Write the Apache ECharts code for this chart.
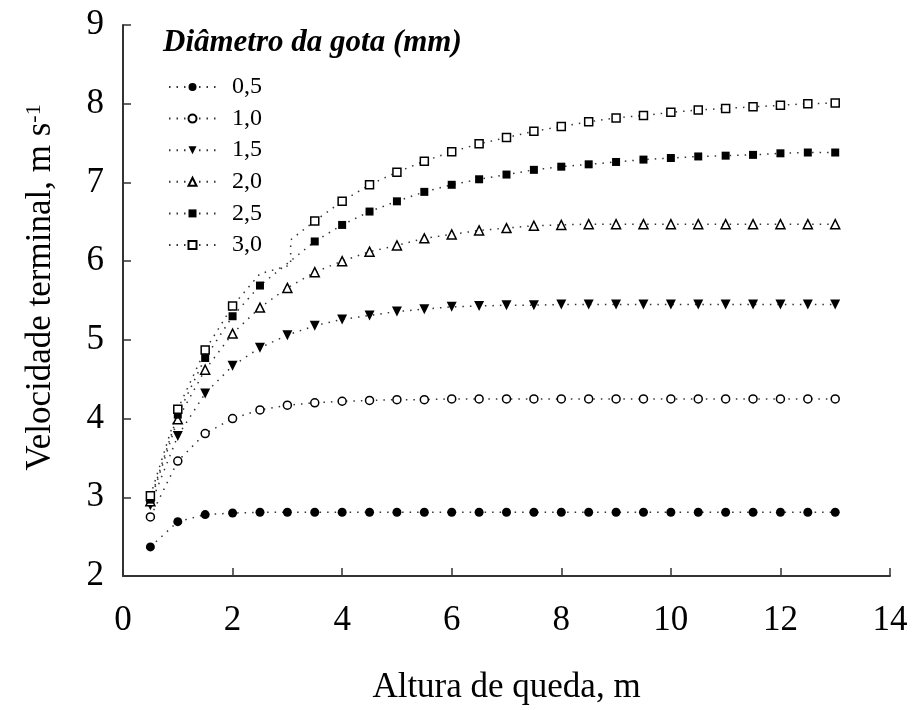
<!DOCTYPE html>
<html>
<head>
<meta charset="utf-8">
<script src="https://cdn.jsdelivr.net/npm/echarts@6/dist/echarts.min.js"></script>
<style>
  html, body { margin: 0; padding: 0; background: #fff; }
  #main { width: 912px; height: 710px; }
</style>
</head>
<body>
<div id="main"></div>
<script>
var FONT = '"Liberation Serif", "Times New Roman", serif';

// altura de queda (m)
var heights = [0.5, 1, 1.5, 2, 2.5, 3, 3.5, 4, 4.5, 5, 5.5, 6, 6.5, 7, 7.5, 8, 8.5, 9, 9.5, 10, 10.5, 11, 11.5, 12, 12.5, 13];

// velocidade terminal (m/s) por diametro de gota
var v05 = [2.37, 2.69, 2.78, 2.80, 2.81, 2.81, 2.81, 2.81, 2.81, 2.81, 2.81, 2.81, 2.81, 2.81, 2.81, 2.81, 2.81, 2.81, 2.81, 2.81, 2.81, 2.81, 2.81, 2.81, 2.81, 2.81];
var v10 = [2.75, 3.46, 3.81, 4.00, 4.11, 4.17, 4.20, 4.22, 4.23, 4.24, 4.24, 4.25, 4.25, 4.25, 4.25, 4.25, 4.25, 4.25, 4.25, 4.25, 4.25, 4.25, 4.25, 4.25, 4.25, 4.25];
var v15 = [2.90, 3.78, 4.32, 4.67, 4.90, 5.06, 5.18, 5.26, 5.31, 5.36, 5.39, 5.42, 5.43, 5.44, 5.44, 5.45, 5.45, 5.45, 5.45, 5.45, 5.45, 5.45, 5.45, 5.45, 5.45, 5.45];
var v20 = [2.95, 3.99, 4.62, 5.08, 5.41, 5.66, 5.86, 6.00, 6.12, 6.20, 6.29, 6.34, 6.39, 6.42, 6.45, 6.46, 6.47, 6.47, 6.47, 6.47, 6.47, 6.47, 6.47, 6.47, 6.47, 6.47];
var v25 = [2.97, 4.05, 4.77, 5.30, 5.69, 5.97, 6.25, 6.46, 6.63, 6.76, 6.88, 6.97, 7.04, 7.10, 7.16, 7.20, 7.23, 7.26, 7.29, 7.31, 7.33, 7.34, 7.35, 7.37, 7.38, 7.38];
var v30 = [3.02, 4.12, 4.87, 5.43, 5.84, null, 6.51, 6.76, 6.97, 7.13, 7.27, 7.39, 7.49, 7.57, 7.65, 7.71, 7.77, 7.82, 7.85, 7.89, 7.92, 7.94, 7.96, 7.98, 8.00, 8.01];
// trecho quebrado da curva de 3,0 mm perto de 3 m
var v30Break = [[3.06, 5.95], [3.06, 6.27]];
// pontos sem marcador no original
var hidden25 = [3];
var hidden30 = [2.5, 3.06];

var names = ['0,5', '1,0', '1,5', '2,0', '2,5', '3,0'];

function makeData(vals, extra, hidden) {
    var pts = [];
    heights.forEach(function (x, i) {
        if (vals[i] !== null) pts.push([x, vals[i]]);
    });
    (extra || []).forEach(function (p) { pts.push(p); });
    pts.sort(function (a, b) { return a[0] - b[0]; });
    return pts.map(function (p) {
        if ((hidden || []).indexOf(p[0]) > -1) return { value: p, symbol: 'none' };
        return p;
    });
}

function mk(name, data, symbol, size, open, rotate) {
    return {
        name: name,
        type: 'line',
        data: data,
        symbol: symbol,
        symbolSize: size,
        symbolRotate: rotate || 0,
        showAllSymbol: true,
        lineStyle: { color: '#333', width: 1.5, type: [1.5, 6] },
        itemStyle: open
            ? { color: '#fff', borderColor: '#000', borderWidth: 1.5 }
            : { color: '#000', borderColor: '#000', borderWidth: 0 }
    };
}

var series = [
    mk(names[0], makeData(v05), 'circle', 9, false),
    mk(names[1], makeData(v10), 'circle', 8, true),
    mk(names[2], makeData(v15), 'triangle', 10, false, 180),
    mk(names[3], makeData(v20), 'triangle', 9, true),
    mk(names[4], makeData(v25, null, hidden25), 'rect', 8, false),
    mk(names[5], makeData(v30, v30Break, hidden30), 'rect', 8, true)
];

var myChart = echarts.init(document.getElementById('main'));
myChart.setOption({
    animation: false,
    backgroundColor: '#fff',
    title: {
        text: 'Diâmetro da gota (mm)',
        left: 163, top: 27, padding: 0,
        textStyle: { fontFamily: FONT, fontSize: 31, fontStyle: 'italic', fontWeight: 'bold', color: '#000' }
    },
    legend: {
        data: names,
        orient: 'vertical',
        left: 163, top: 70,
        itemWidth: 47, itemHeight: 10, itemGap: 7.6,
        textStyle: { fontFamily: FONT, fontSize: 24, lineHeight: 24, color: '#000', padding: [0, 0, 0, 11] }
    },
    grid: { left: 123, right: 22, top: 25, bottom: 132.5, containLabel: false },
    xAxis: {
        type: 'value', min: 0, max: 14, interval: 2,
        name: 'Altura de queda, m', nameLocation: 'middle', nameGap: 94,
        nameTextStyle: { fontFamily: FONT, fontSize: 35, color: '#000' },
        axisLine: { lineStyle: { color: '#333', width: 2 } },
        axisTick: { inside: true, length: 8, lineStyle: { color: '#333', width: 1.5 } },
        axisLabel: { margin: 27, fontFamily: FONT, fontSize: 35, color: '#000' },
        splitLine: { show: false }
    },
    yAxis: {
        type: 'value', min: 2, max: 9, interval: 1,
        name: 'Velocidade terminal, m s{sup|-1}', nameLocation: 'middle', nameGap: 64,
        nameTextStyle: {
            fontFamily: FONT, fontSize: 35, color: '#000', padding: [0, 0, 0, 26],
            rich: { sup: { fontFamily: FONT, fontSize: 22, color: '#000', verticalAlign: 'bottom', padding: [0, 0, 14, 0] } }
        },
        axisLine: { show: true, lineStyle: { color: '#333', width: 2 } },
        axisTick: { show: true, inside: true, length: 8, lineStyle: { color: '#333', width: 1.5 } },
        axisLabel: { margin: 19, fontFamily: FONT, fontSize: 35, color: '#000' },
        splitLine: { show: false }
    },
    series: series
});
</script>
</body>
</html>
